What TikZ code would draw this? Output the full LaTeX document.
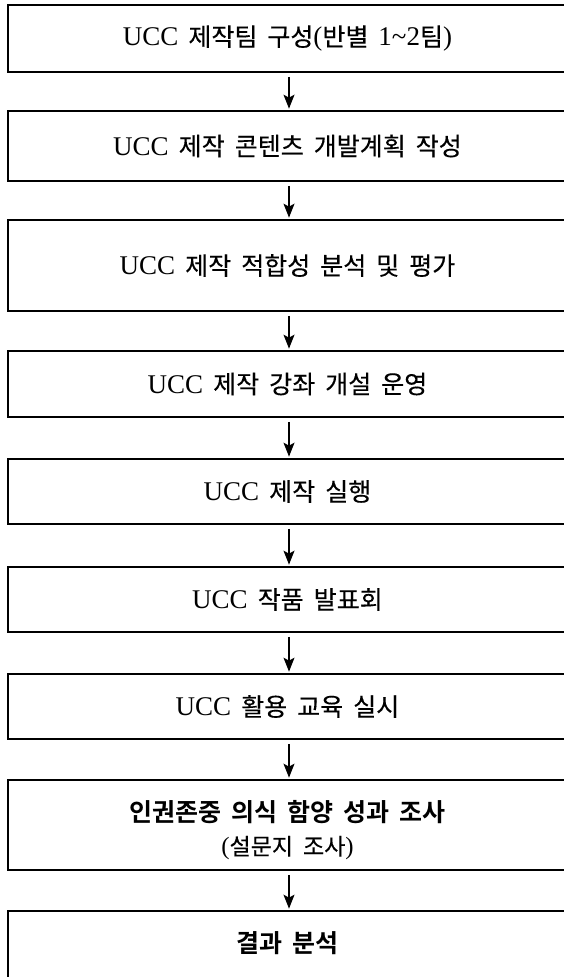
\documentclass[tikz,border=0pt]{standalone}
\usepackage{fontspec}
\setmainfont{Liberation Serif}[Scale=1.08]
\newfontfamily\kr[FakeBold=0.3]{Noto Sans CJK KR}
\newfontfamily\krb[BoldFont={* Bold}]{Noto Sans CJK KR}
\usetikzlibrary{arrows.meta}
\newcommand\K[1]{{\kr #1}}
\newcommand\KB[1]{{\krb\bfseries #1}}
\newcommand\ws{\hspace{10pt}}
\newcommand\fsz{\fontsize{25}{36}\selectfont}
\tikzset{
  box/.style={draw, line width=2.7pt, minimum width=559pt, inner sep=0pt, font=\fsz, align=center},
  lbl/.style={inner sep=0pt, font=\fsz, align=center},
  arr/.style={line width=1.1pt, -{Stealth[length=14pt,width=11pt,inset=3pt]}, shorten <=3.6pt, shorten >=1pt}
}
\begin{document}
\begin{tikzpicture}[x=1pt,y=-1pt]
\useasboundingbox (0,0) rectangle (564,977);
\clip (0,0) rectangle (564,977);
\fill[white] (0,0) rectangle (564,977);
\coordinate (ax) at (289,0);
\node[box, minimum height=67pt] (b1) at (287.5,38.5) {UCC\ws\K{제작팀}\ws\K{구성}(\K{반별}\ws 1\textasciitilde 2\K{팀})};
\node[box, minimum height=70pt] (b2) at (287.5,146) {UCC\ws\K{제작}\ws\K{콘텐츠}\ws\K{개발계획}\ws\K{작성}};
\node[box, minimum height=91pt] (b3) at (287.5,265.5) {UCC\ws\K{제작}\ws\K{적합성}\ws\K{분석}\ws\K{및}\ws\K{평가}};
\node[box, minimum height=66pt] (b4) at (287.5,384) {UCC\ws\K{제작}\ws\K{강좌}\ws\K{개설}\ws\K{운영}};
\node[box, minimum height=65pt] (b5) at (287.5,491.5) {UCC\ws\K{제작}\ws\K{실행}};
\node[box, minimum height=65pt] (b6) at (287.5,599.5) {UCC\ws\K{작품}\ws\K{발표회}};
\node[box, minimum height=65pt] (b7) at (287.5,706.5) {UCC\ws\K{활용}\ws\K{교육}\ws\K{실시}};
\node[box, minimum height=90pt] (b8) at (287.5,825) {};
\node[lbl] (t8a) at (287.5,812) {\KB{인권존중}\ws\KB{의식}\ws\KB{함양}\ws\KB{성과}\ws\KB{조사}};
\node[lbl, font=\fontsize{23}{30}\selectfont] (t8b) at (287.5,848) {(\K{설문지}\ws\K{조사})};
\node[box, minimum height=89pt] (b9) at (287.5,955.5) {};
\node[lbl] (t9) at (287.5,943) {\KB{결과}\ws\KB{분석}};
\foreach \a/\b in {b1/b2,b2/b3,b3/b4,b4/b5,b5/b6,b6/b7,b7/b8,b8/b9}
  \draw[arr] (\a.south -| ax) -- (\b.north -| ax);
\end{tikzpicture}
\end{document}
